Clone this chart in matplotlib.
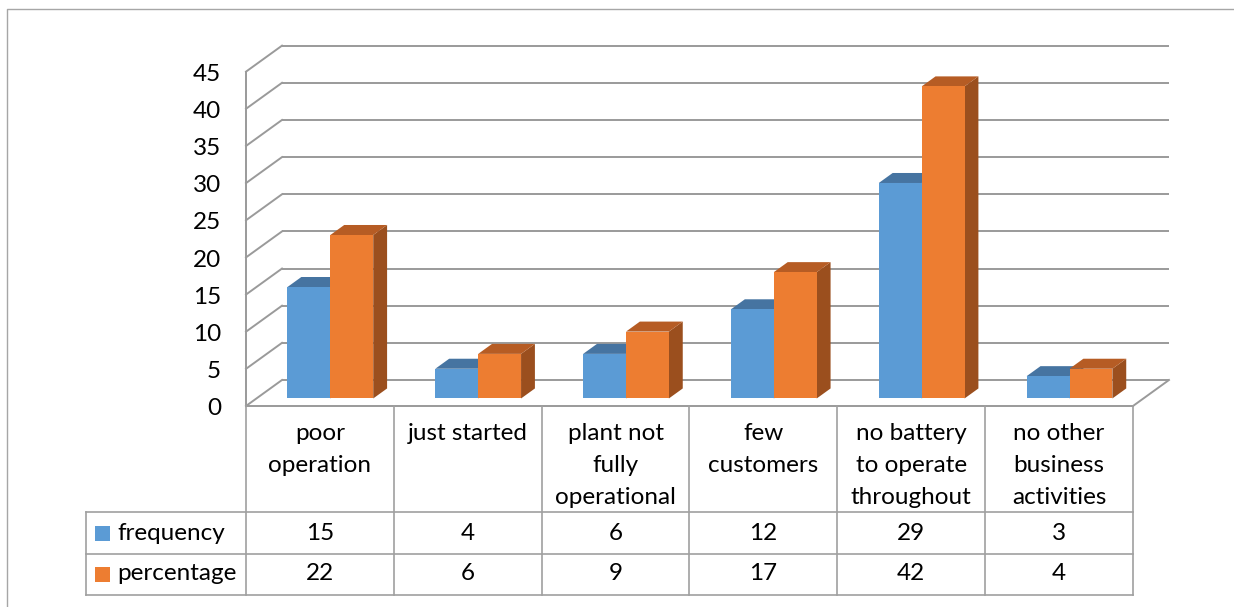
import matplotlib
matplotlib.use('Agg')
import matplotlib.pyplot as plt
from matplotlib.patches import Polygon, Rectangle
from matplotlib.lines import Line2D

# ---------------- data ----------------
categories = ["poor\noperation", "just started", "plant not\nfully\noperational",
              "few\ncustomers", "no battery\nto operate\nthroughout",
              "no other\nbusiness\nactivities"]
series_names = ["frequency", "percentage"]
frequency = [15, 4, 6, 12, 29, 3]
percentage = [22, 6, 9, 17, 42, 4]
y_ticks = [0, 5, 10, 15, 20, 25, 30, 35, 40, 45]

# ---------------- style ----------------
plt.rcParams['font.family'] = ['Lato', 'DejaVu Sans']
FS = 17.5
FRONT = ['#5B9BD5', '#ED7D31']
TOP = ['#4674A1', '#B65C24']
SIDE = ['#3F6C96', '#9B4F1E']
GRID = '#9a9a9a'
TLINE = '#a0a0a0'

W, H = 1234, 607
fig = plt.figure(figsize=(W / 100, H / 100), dpi=100)
ax = fig.add_axes([0, 0, 1, 1])

# pixel layout of the plotting frame
X0, CAT = 246, 147.83      # left front edge, category width (px)
Y0, UNIT = 406, 7.43       # front floor (px), px per value unit
ax.set_xlim(-X0 / CAT, (W - X0) / CAT)
ax.set_ylim((Y0 - H) / UNIT, Y0 / UNIT)
ax.axis('off')


def px_x(p):
    return (p - X0) / CAT


def px_y(p):
    return (Y0 - p) / UNIT


n = len(categories)
DX = 36 / CAT          # depth offset in x
DY = 26 / UNIT         # depth offset in y
ymax = y_ticks[-1]

# back wall gridlines and side wall
for v in y_ticks:
    ax.plot([DX, n + DX], [v + DY, v + DY], color=GRID, lw=1.4, zorder=1,
            solid_capstyle='butt')
    ax.plot([0, DX], [v, v + DY], color=GRID, lw=1.4, zorder=1)
ax.plot([0, 0], [0, ymax], color=GRID, lw=1.4, zorder=1)
# floor
ax.plot([0, n], [0, 0], color=GRID, lw=1.4, zorder=1)
ax.plot([n, n + DX], [0, DY], color=GRID, lw=1.4, zorder=1)

# tick labels
for v in y_ticks:
    ax.text(px_x(221), v - 0.35, str(v), ha='right', va='center',
            fontsize=FS, color='black')

# bars
F0, F1, BW = 0.29, 0.675, 0.29
ddx = (F1 - F0) * DX
ddy = (F1 - F0) * DY
base = F0 * DY
z = 3
for i in range(n):
    cx = i + 0.5
    for s, vals in enumerate([frequency, percentage]):
        x0 = cx - BW + s * BW + F0 * DX
        h = vals[i]
        side = Polygon([(x0 + BW, base), (x0 + BW, base + h),
                        (x0 + BW + ddx, base + h + ddy), (x0 + BW + ddx, base + ddy)],
                       closed=True, facecolor=SIDE[s], edgecolor='none', zorder=z)
        ax.add_patch(side)
        top = Polygon([(x0, base + h), (x0 + BW, base + h),
                       (x0 + BW + ddx, base + h + ddy), (x0 + ddx, base + h + ddy)],
                      closed=True, facecolor=TOP[s], edgecolor='none', zorder=z + 1)
        ax.add_patch(top)
        ax.bar(x0, h, width=BW, bottom=base, align='edge', color=FRONT[s],
               edgecolor='none', zorder=z + 2)
        z += 3

# data table
hb = px_y(512)
r1 = px_y(554)
r2 = px_y(595)
left = px_x(86)
for i in range(n + 1):
    ax.plot([i, i], [0, r2], color=TLINE, lw=1.2, zorder=2)
ax.plot([left, left], [hb, r2], color=TLINE, lw=1.2, zorder=2)
for yy in [hb, r1, r2]:
    ax.plot([left, n], [yy, yy], color=TLINE, lw=1.2, zorder=2)

for i, lab in enumerate(categories):
    for k, line in enumerate(lab.split('\n')):
        ax.text(i + 0.5, px_y(434 + 32 * k), line, ha='center', va='center',
                fontsize=FS, color='black')

row_y = [px_y(533), px_y(574)]
for s, vals in enumerate([frequency, percentage]):
    for i, v in enumerate(vals):
        ax.text(i + 0.5, row_y[s], str(v), ha='center', va='center',
                fontsize=FS, color='black')
    sq = 15
    ax.add_patch(Rectangle((px_x(95), row_y[s] - sq / 2 / UNIT), sq / CAT, sq / UNIT,
                           facecolor=FRONT[s], edgecolor='none', zorder=3))
    ax.text(px_x(117), row_y[s], series_names[s], ha='left', va='center',
            fontsize=FS, color='black')

# outer chart frame
fig.add_artist(Line2D([7 / W, 7 / W, 1], [0, 1 - 9 / H, 1 - 9 / H],
                      transform=fig.transFigure, color='#a6a6a6', lw=1))

fig.savefig('out.png', dpi=100)
